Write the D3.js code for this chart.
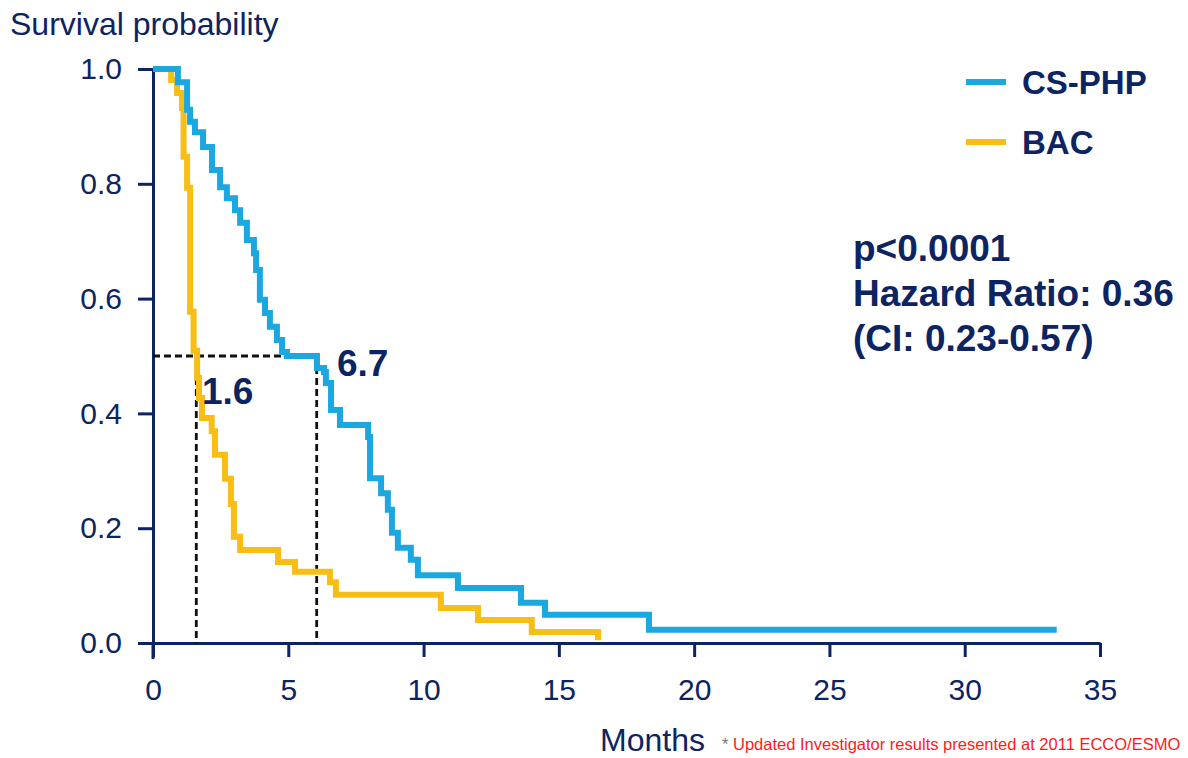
<!DOCTYPE html>
<html>
<head>
<meta charset="utf-8">
<script src="https://cdn.jsdelivr.net/npm/d3@7"></script>
<style>
  body { margin: 0; background: #fff; }
  text { font-family: "Liberation Sans", Arial, sans-serif; }
</style>
</head>
<body>
<script>
// data: [months, survival]
var csphp = [[0, 1], [0.92, 0.977], [1.26, 0.929], [1.37, 0.908], [1.55, 0.89], [1.85, 0.864],
  [2.18, 0.824], [2.48, 0.794], [2.73, 0.775], [3.03, 0.754], [3.22, 0.732], [3.47, 0.702],
  [3.73, 0.679], [3.81, 0.65], [3.95, 0.598], [4.14, 0.575], [4.32, 0.551], [4.58, 0.528],
  [4.77, 0.507], [4.95, 0.5], [6.06, 0.479], [6.32, 0.472], [6.39, 0.453], [6.58, 0.406],
  [6.91, 0.38], [7.95, 0.359], [8.02, 0.287], [8.43, 0.261], [8.68, 0.232], [8.83, 0.192],
  [9.05, 0.166], [9.53, 0.145], [9.79, 0.118], [11.27, 0.096], [13.6, 0.07], [14.49, 0.049],
  [18.33, 0.023], [33.4, 0.023]];
var bac = [[0, 1], [0.67, 0.981], [0.89, 0.958], [1.07, 0.932], [1.13, 0.847], [1.26, 0.793],
  [1.37, 0.577], [1.5, 0.509], [1.63, 0.462], [1.7, 0.427], [1.81, 0.392], [2.17, 0.369],
  [2.29, 0.328], [2.66, 0.286], [2.88, 0.242], [2.99, 0.185], [3.22, 0.162], [4.62, 0.141],
  [5.25, 0.124], [6.54, 0.106], [6.76, 0.084], [10.64, 0.061], [12.01, 0.04], [14.0, 0.019],
  [16.45, 0.005]];
var medians = [1.6, 6.05];
var medianLabels = ["1.6", "6.7"];
var xTicks = [0, 5, 10, 15, 20, 25, 30, 35];
var yTicks = [0, 0.2, 0.4, 0.6, 0.8, 1.0];
var series = [
  {name: "CS-PHP", data: csphp, color: "#1ba7e0"},
  {name: "BAC", data: bac, color: "#f8be16"}
];
var statLines = ["p<0.0001", "Hazard Ratio: 0.36", "(CI: 0.23-0.57)"];

var W = 1188, H = 758;
var navy = "#0c2461";
var svg = d3.select("body").append("svg").attr("width", W).attr("height", H);

var x = d3.scaleLinear().domain([0, 35]).range([153, 1100]);
var y = d3.scaleLinear().domain([0, 1]).range([643, 69]);

// x axis
var gx = svg.append("g").attr("transform", "translate(0," + y(0) + ")")
  .call(d3.axisBottom(x).tickValues(xTicks).tickSize(14).tickSizeOuter(0).tickPadding(22));
gx.select(".domain").attr("stroke", navy).attr("stroke-width", 3);
gx.selectAll(".tick line").attr("stroke", navy).attr("stroke-width", 3);
gx.selectAll(".tick text").attr("fill", navy).style("font-size", "30px");

// y axis
var gy = svg.append("g").attr("transform", "translate(" + x(0) + ",0)")
  .call(d3.axisLeft(y).tickValues(yTicks).tickFormat(d3.format(".1f")).tickSize(15).tickSizeOuter(0).tickPadding(16));
gy.select(".domain").attr("stroke", navy).attr("stroke-width", 3);
gy.selectAll(".tick line").attr("stroke", navy).attr("stroke-width", 3);
gy.selectAll(".tick text").attr("fill", navy).style("font-size", "30px");
svg.append("line").attr("x1", x(0)).attr("x2", x(0)).attr("y1", y(0)).attr("y2", y(0) + 16)
  .attr("stroke", navy).attr("stroke-width", 3);

// median dashed lines
var dash = svg.append("g").attr("stroke", "#111").attr("stroke-width", 2.8).attr("stroke-dasharray", "7,4").attr("fill", "none");
dash.append("line").attr("x1", x(0)).attr("x2", x(medians[1])).attr("y1", y(0.5)).attr("y2", y(0.5));
medians.forEach(function (m) {
  dash.append("line").attr("x1", x(m)).attr("x2", x(m)).attr("y1", y(0.5)).attr("y2", y(0));
});

// curves
var line = d3.line().x(function (d) { return x(d[0]); }).y(function (d) { return y(d[1]); }).curve(d3.curveStepAfter);
svg.selectAll("path.km").data(series.slice().reverse()).enter().append("path")
  .attr("class", "km")
  .attr("d", function (d) { return line(d.data); })
  .attr("fill", "none")
  .attr("stroke", function (d) { return d.color; })
  .attr("stroke-width", 6);

// median labels
svg.append("text").attr("x", 202).attr("y", 404).attr("fill", navy)
  .style("font-size", "37px").style("font-weight", "bold").text(medianLabels[0]);
svg.append("text").attr("x", 337).attr("y", 376).attr("fill", navy)
  .style("font-size", "37px").style("font-weight", "bold").text(medianLabels[1]);

// legend
var leg = svg.append("g");
series.forEach(function (s, i) {
  var ly = 82 + i * 60;
  leg.append("line").attr("x1", 966).attr("x2", 1006).attr("y1", ly).attr("y2", ly)
    .attr("stroke", s.color).attr("stroke-width", 6);
  leg.append("text").attr("x", 1022).attr("y", ly + 12).attr("fill", navy)
    .style("font-size", "33px").style("font-weight", "bold").text(s.name);
});

// stats
svg.append("g").selectAll("text").data(statLines).enter().append("text")
  .attr("x", 853).attr("y", function (d, i) { return 261 + i * 45; })
  .attr("fill", navy).style("font-size", "37px").style("font-weight", "bold")
  .text(function (d) { return d; });

// titles
svg.append("text").attr("x", 10).attr("y", 35).attr("fill", navy).style("font-size", "32px").text("Survival probability");
svg.append("text").attr("x", 600).attr("y", 751).attr("fill", navy).style("font-size", "32px").text("Months");
var foot = svg.append("text").attr("x", 722).attr("y", 750).style("font-size", "16.5px");
foot.append("tspan").attr("fill", "#777").text("* ");
foot.append("tspan").attr("fill", "#ff1a1a").text("Updated Investigator results presented at 2011 ECCO/ESMO");
</script>
</body>
</html>
